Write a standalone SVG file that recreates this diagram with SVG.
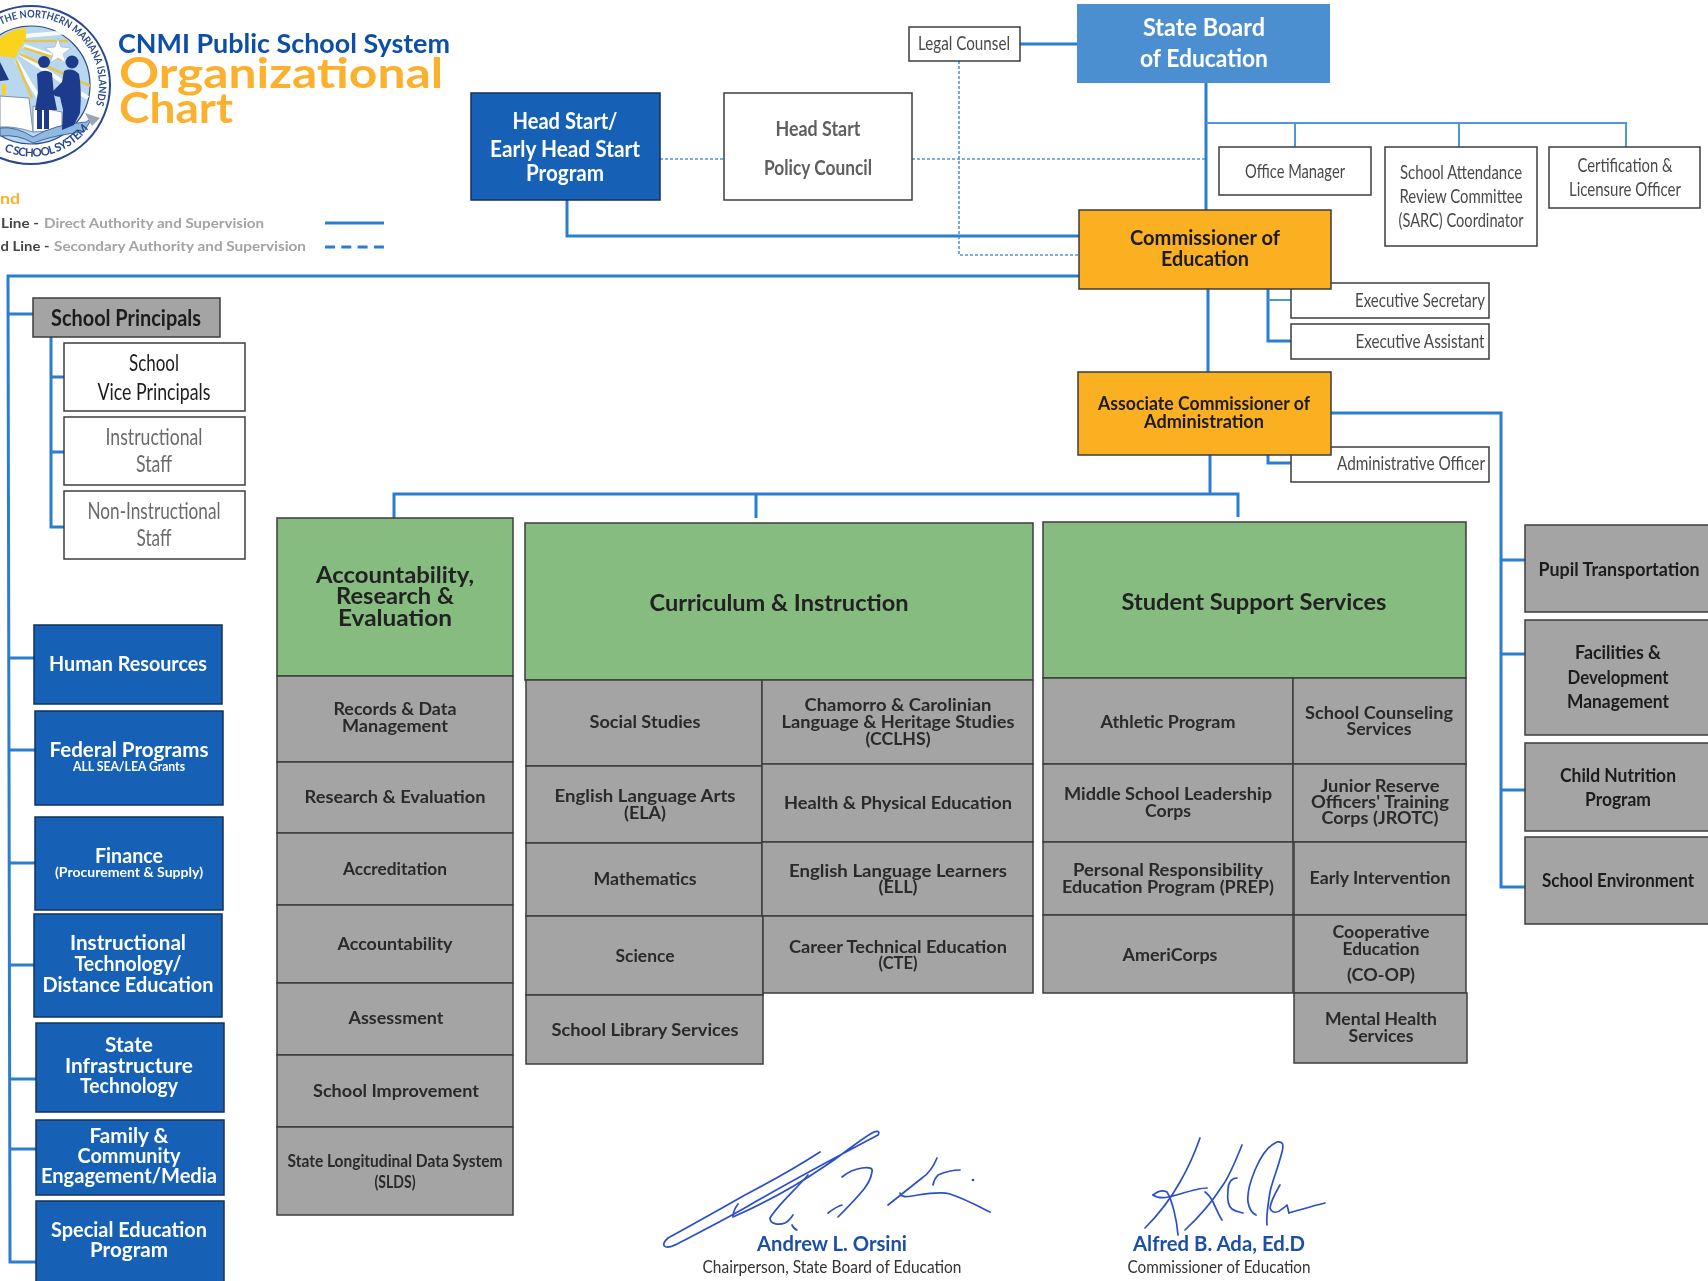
<svg xmlns="http://www.w3.org/2000/svg" width="1708" height="1281" viewBox="0 0 1708 1281">
<style>
text{font-family:"Lato","Liberation Sans",sans-serif;text-anchor:middle}
svg>g{filter:url(#scan)}
.b{font-weight:700}
.w{fill:#fff}
.k{fill:#1c1c1c}
.g{fill:#4a4a4a}
.s{fill:#2a2a2a;font-weight:700;font-size:16.5px}
.h{fill:#222;font-weight:700;font-size:22.5px}
.box{stroke:#3c3c3c;stroke-width:1.5}
.wb{fill:#fff}
.db{fill:#1561b5;stroke:#14305c;stroke-width:1.5}
.or{fill:#fbb024}
.gr{fill:#a4a4a4}
.gn{fill:#86bc80}
.solid{fill:none;stroke:#2c7dd0;stroke-width:3}
.thin{fill:none;stroke:#4f97da;stroke-width:2}
.dot{fill:none;stroke:#4f97da;stroke-width:1.6;stroke-dasharray:3 2}
.sig{fill:none;stroke:#2a50c8;stroke-width:1.7;stroke-linecap:round;stroke-linejoin:round}
</style>
<defs>
<filter id="scan" x="-5%" y="-5%" width="110%" height="110%"><feGaussianBlur stdDeviation="0.45"/></filter>
<path id="arcTop" d="M1 25 A67 67 0 0 1 96 104"/>
<path id="arcBot" d="M4 151 A71 71 0 0 0 96 116"/>
</defs>
<rect width="1708" height="1281" fill="#fff"/>

<g id="logo">
<circle cx="31" cy="85" r="79" fill="#fff" stroke="#2c4a8c" stroke-width="2"/>
<circle cx="31" cy="85" r="59" fill="#b9d8ef" stroke="#2c4a8c" stroke-width="1.2"/>
<path d="M24 36L70 32M24 46L70 62M20 54L88 98M16 60L40 100" stroke="#fff" stroke-width="4" fill="none" opacity=".9"/>
<path d="M0 38Q14 28 25 28Q29 38 20 48L15 58L0 56Z" fill="#fbd21c"/>
<path d="M24 41L68 41M24 48L62 60M20 54L90 86M16 60L32 98" stroke="#e6c64a" stroke-width="2.5" fill="none"/>
<path d="M58 38L61 47L71 48L63 54L66 63L58 58L50 63L53 54L45 48L55 47Z" fill="#fff" stroke="#9db9d8" stroke-width=".7"/>
<path d="M0 62L9 80L0 81Z" fill="#1c3a84"/>
<path d="M2 84H6V95H2Z" fill="#fbd21c"/>
<path d="M0 96L29 98L33 132Q15 126 0 127ZM33 106L62 112L62 130L33 132Z" fill="#fff" stroke="#7d8fb4" stroke-width="1"/>
<path d="M0 128Q16 126 33 137Q55 124 86 122L92 118L84 132Q58 134 33 143Q18 134 0 136Z" fill="#8fb9df" stroke="#2c4a8c" stroke-width=".8"/>
<path d="M85 113L100 118L92 126Z" fill="#9aa4b4"/>
<circle cx="44" cy="62" r="6" fill="#1c3a8c"/><circle cx="72" cy="62" r="6.5" fill="#1c3a8c"/>
<path d="M37 74Q44 68 52 73L54 95L57 110L35 110L38 92ZM37 108H42V129H37ZM44 108H49V129H44Z" fill="#1c3a8c"/>
<path d="M64 71Q72 67 79 74Q82 90 80 113L74 125L62 130L63 110L60 97L55 96L52 92L62 82Z" fill="#1c3a8c"/>
<text font-size="10.5" class="b" fill="#2c4a8c" textLength="158" lengthAdjust="spacingAndGlyphs" style="text-anchor:start"><textPath href="#arcTop">THE NORTHERN MARIANA ISLANDS</textPath></text>
<text font-size="11.5" font-weight="700" fill="#2c4a8c" textLength="94" lengthAdjust="spacing" style="text-anchor:start"><textPath href="#arcBot">C SCHOOL SYSTEM</textPath></text>
</g>

<g id="title">
<text x="284" y="53" font-size="26" class="b" fill="#0c4fa6" textLength="332" lengthAdjust="spacingAndGlyphs">CNMI Public School System</text>
<text x="281" y="88" font-size="42" class="b" fill="#fbb02e" textLength="324" lengthAdjust="spacingAndGlyphs">Organizational</text>
<text x="176" y="123" font-size="42" class="b" fill="#fbb02e" textLength="114" lengthAdjust="spacingAndGlyphs">Chart</text>
</g>

<g id="legend">
<text x="10" y="204" font-size="15" class="b" fill="#fbb02e" textLength="20" lengthAdjust="spacingAndGlyphs">nd</text>
<text x="20" y="228" font-size="14" class="b" fill="#444" textLength="38" lengthAdjust="spacingAndGlyphs">Line -</text>
<text x="154" y="228" font-size="14" class="b" fill="#a3a3a3" textLength="220" lengthAdjust="spacingAndGlyphs">Direct Authority and Supervision</text>
<text x="25" y="251" font-size="14" class="b" fill="#444" textLength="49" lengthAdjust="spacingAndGlyphs">d Line -</text>
<text x="180" y="251" font-size="14" class="b" fill="#a3a3a3" textLength="252" lengthAdjust="spacingAndGlyphs">Secondary Authority and Supervision</text>
<path d="M325 223H384" class="solid"/>
<path d="M325 247H384" class="solid" stroke-dasharray="10 6.3"/>
</g>

<g id="connectors">
<path class="solid" d="M1020 44H1077"/>
<path class="solid" d="M1206 82V210"/>
<path class="thin" d="M1206 123H1626V147M1295 123V147M1459 123V147"/>
<path class="dot" d="M660 159H724M912 159H1206"/>
<path class="dot" d="M959 61V255H1079"/>
<path class="solid" d="M567 200V236H1079"/>
<path class="solid" d="M1079 276H8L10 1262H36"/>
<path class="solid" stroke-width="2" d="M8 314H33M9 658H34M9 750H35M9 863H35M10 965H34M10 1079H36M10 1149H36"/>
<path class="solid" d="M51 337V527H64M51 377H64M51 452H64"/>
<path class="solid" d="M1208 289V372"/>
<path class="solid" d="M1268 289V341H1291"/>
<path class="thin" d="M1268 300H1291"/>
<path class="solid" d="M1268 455V463H1291"/>
<path class="solid" d="M1210 455V494"/>
<path class="solid" d="M394 518V494H1238V517M756 494V518"/>
<path class="solid" d="M1331 413H1501V887H1525M1501 560H1525M1501 654H1525M1501 790H1525"/>
</g>

<g id="state-board"><rect x="1077" y="4" width="253" height="79" fill="#4b8fd1"/><text x="1204" y="36" font-size="24" class="b w" textLength="122" lengthAdjust="spacingAndGlyphs">State Board</text><text x="1204" y="67" font-size="24" class="b w" textLength="128" lengthAdjust="spacingAndGlyphs">of Education</text></g>
<g id="legal-counsel"><rect x="909" y="27" width="111" height="34" class="box wb"/><text x="964" y="50" font-size="19" class="g" textLength="92" lengthAdjust="spacingAndGlyphs">Legal Counsel</text></g>
<g id="head-start"><rect x="471" y="93" width="189" height="107" class="db"/><text x="565" y="129" font-size="22" class="b w" textLength="105" lengthAdjust="spacingAndGlyphs">Head Start/</text><text x="565" y="157" font-size="22" class="b w" textLength="150" lengthAdjust="spacingAndGlyphs">Early Head Start</text><text x="565" y="181" font-size="22" class="b w" textLength="78" lengthAdjust="spacingAndGlyphs">Program</text></g>
<g id="policy-council"><rect x="724" y="93" width="188" height="107" class="box wb"/><text x="818" y="136" font-size="21" class="b" fill="#5e5e5e" textLength="85" lengthAdjust="spacingAndGlyphs">Head Start</text><text x="818" y="175" font-size="21" class="b" fill="#5e5e5e" textLength="108" lengthAdjust="spacingAndGlyphs">Policy Council</text></g>
<g id="office-manager"><rect x="1219" y="147" width="152" height="48" class="box wb"/><text x="1295" y="178" font-size="20" class="g" textLength="100" lengthAdjust="spacingAndGlyphs">Office Manager</text></g>
<g id="sarc"><rect x="1385" y="147" width="152" height="99" class="box wb"/><text x="1461" y="179" font-size="20" class="g" textLength="122" lengthAdjust="spacingAndGlyphs">School Attendance</text><text x="1461" y="203" font-size="20" class="g" textLength="123" lengthAdjust="spacingAndGlyphs">Review Committee</text><text x="1461" y="227" font-size="20" class="g" textLength="125" lengthAdjust="spacingAndGlyphs">(SARC) Coordinator</text></g>
<g id="certification"><rect x="1549" y="147" width="151" height="61" class="box wb"/><text x="1625" y="172" font-size="20" class="g" textLength="95" lengthAdjust="spacingAndGlyphs">Certification &amp;</text><text x="1625" y="196" font-size="20" class="g" textLength="112" lengthAdjust="spacingAndGlyphs">Licensure Officer</text></g>
<g id="exec-secretary"><rect x="1291" y="283" width="198" height="35" class="box wb"/><text x="1420" y="307" font-size="20" class="g" textLength="130" lengthAdjust="spacingAndGlyphs">Executive Secretary</text></g>
<g id="exec-assistant"><rect x="1291" y="324" width="198" height="35" class="box wb"/><text x="1420" y="348" font-size="20" class="g" textLength="129" lengthAdjust="spacingAndGlyphs">Executive Assistant</text></g>
<g id="commissioner"><rect x="1079" y="210" width="252" height="79" class="or box"/><text x="1205" y="245" font-size="21" class="b k" textLength="150" lengthAdjust="spacingAndGlyphs">Commissioner of</text><text x="1205" y="266" font-size="21" class="b k" textLength="88" lengthAdjust="spacingAndGlyphs">Education</text></g>
<g id="admin-officer"><rect x="1291" y="447" width="198" height="35" class="box wb"/><text x="1411" y="470" font-size="20" class="g" textLength="148" lengthAdjust="spacingAndGlyphs">Administrative Officer</text></g>
<g id="assoc-commissioner"><rect x="1078" y="372" width="253" height="83" class="or box"/><text x="1204" y="410" font-size="18.5" class="b k" textLength="212" lengthAdjust="spacingAndGlyphs">Associate Commissioner of</text><text x="1204" y="428" font-size="18.5" class="b k" textLength="120" lengthAdjust="spacingAndGlyphs">Administration</text></g>

<g id="school-principals"><rect x="33" y="298" width="187" height="39" class="gr box"/><text x="126" y="326" font-size="23" class="b k" textLength="150" lengthAdjust="spacingAndGlyphs">School Principals</text></g>
<g id="vice-principals"><rect x="64" y="343" width="181" height="68" class="box wb"/><text x="154" y="371" font-size="24" class="k" textLength="50" lengthAdjust="spacingAndGlyphs">School</text><text x="154" y="400" font-size="24" class="k" textLength="113" lengthAdjust="spacingAndGlyphs">Vice Principals</text></g>
<g id="instructional-staff"><rect x="64" y="417" width="181" height="68" class="box wb"/><text x="154" y="445" font-size="24" fill="#6a6a6a" textLength="97" lengthAdjust="spacingAndGlyphs">Instructional</text><text x="154" y="472" font-size="24" fill="#6a6a6a" textLength="36" lengthAdjust="spacingAndGlyphs">Staff</text></g>
<g id="non-instructional-staff"><rect x="64" y="491" width="181" height="68" class="box wb"/><text x="154" y="519" font-size="24" fill="#6a6a6a" textLength="133" lengthAdjust="spacingAndGlyphs">Non-Instructional</text><text x="154" y="546" font-size="24" fill="#6a6a6a" textLength="35" lengthAdjust="spacingAndGlyphs">Staff</text></g>

<g id="human-resources"><rect x="34" y="625" width="188" height="79" class="db"/><text x="128" y="671" font-size="21" class="b w" textLength="158" lengthAdjust="spacingAndGlyphs">Human Resources</text></g>
<g id="federal-programs"><rect x="35" y="711" width="188" height="94" class="db"/><text x="129" y="757" font-size="21" class="b w" textLength="159" lengthAdjust="spacingAndGlyphs">Federal Programs</text><text x="129" y="771" font-size="13" class="b w" textLength="112" lengthAdjust="spacingAndGlyphs">ALL SEA/LEA Grants</text></g>
<g id="finance"><rect x="35" y="817" width="188" height="93" class="db"/><text x="129" y="863" font-size="21" class="b w" textLength="68" lengthAdjust="spacingAndGlyphs">Finance</text><text x="129" y="877" font-size="14" class="b w" textLength="148" lengthAdjust="spacingAndGlyphs">(Procurement &amp; Supply)</text></g>
<g id="instructional-technology"><rect x="34" y="914" width="188" height="103" class="db"/><text x="128" y="950" font-size="21" class="b w" textLength="116" lengthAdjust="spacingAndGlyphs">Instructional</text><text x="128" y="971" font-size="21" class="b w" textLength="107" lengthAdjust="spacingAndGlyphs">Technology/</text><text x="128" y="992" font-size="21" class="b w" textLength="171" lengthAdjust="spacingAndGlyphs">Distance Education</text></g>
<g id="state-infrastructure"><rect x="36" y="1023" width="188" height="89" class="db"/><text x="129" y="1052" font-size="21" class="b w" textLength="48" lengthAdjust="spacingAndGlyphs">State</text><text x="129" y="1073" font-size="21" class="b w" textLength="128" lengthAdjust="spacingAndGlyphs">Infrastructure</text><text x="129" y="1093" font-size="21" class="b w" textLength="98" lengthAdjust="spacingAndGlyphs">Technology</text></g>
<g id="family-community"><rect x="36" y="1120" width="188" height="75" class="db"/><text x="129" y="1143" font-size="21" class="b w" textLength="79" lengthAdjust="spacingAndGlyphs">Family &amp;</text><text x="129" y="1163" font-size="21" class="b w" textLength="103" lengthAdjust="spacingAndGlyphs">Community</text><text x="129" y="1183" font-size="21" class="b w" textLength="176" lengthAdjust="spacingAndGlyphs">Engagement/Media</text></g>
<g id="special-education"><rect x="36" y="1201" width="188" height="82" class="db"/><text x="129" y="1237" font-size="21" class="b w" textLength="156" lengthAdjust="spacingAndGlyphs">Special Education</text><text x="129" y="1257" font-size="21" class="b w" textLength="78" lengthAdjust="spacingAndGlyphs">Program</text></g>

<g id="accountability-header"><rect x="277" y="518" width="236" height="158" class="gn box"/><text x="395" y="583" class="h" textLength="158" lengthAdjust="spacingAndGlyphs">Accountability,</text><text x="395" y="604" class="h" textLength="118" lengthAdjust="spacingAndGlyphs">Research &amp;</text><text x="395" y="626" class="h" textLength="114" lengthAdjust="spacingAndGlyphs">Evaluation</text></g>
<g id="records"><rect x="277" y="676" width="236" height="86" class="gr box"/><text x="395" y="715" class="s" textLength="123" lengthAdjust="spacingAndGlyphs">Records &amp; Data</text><text x="395" y="732" class="s" textLength="106" lengthAdjust="spacingAndGlyphs">Management</text></g>
<g id="research"><rect x="277" y="762" width="236" height="71" class="gr box"/><text x="395" y="803" class="s" textLength="181" lengthAdjust="spacingAndGlyphs">Research &amp; Evaluation</text></g>
<g id="accreditation"><rect x="277" y="833" width="236" height="72" class="gr box"/><text x="395" y="875" class="s" textLength="104" lengthAdjust="spacingAndGlyphs">Accreditation</text></g>
<g id="accountability"><rect x="277" y="905" width="236" height="78" class="gr box"/><text x="395" y="950" class="s" textLength="115" lengthAdjust="spacingAndGlyphs">Accountability</text></g>
<g id="assessment"><rect x="277" y="983" width="236" height="72" class="gr box"/><text x="396" y="1024" class="s" textLength="95" lengthAdjust="spacingAndGlyphs">Assessment</text></g>
<g id="school-improvement"><rect x="277" y="1055" width="236" height="72" class="gr box"/><text x="396" y="1097" class="s" textLength="166" lengthAdjust="spacingAndGlyphs">School Improvement</text></g>
<g id="slds"><rect x="277" y="1127" width="236" height="88" class="gr box"/><text x="395" y="1167" class="s" textLength="215" lengthAdjust="spacingAndGlyphs">State Longitudinal Data System</text><text x="395" y="1188" class="s" textLength="41" lengthAdjust="spacingAndGlyphs">(SLDS)</text></g>

<g id="curriculum-header"><rect x="525" y="523" width="508" height="157" class="gn box"/><text x="779" y="611" class="h" textLength="259" lengthAdjust="spacingAndGlyphs">Curriculum &amp; Instruction</text></g>
<g id="social-studies"><rect x="526" y="680" width="236" height="86" class="gr box"/><text x="645" y="728" class="s" textLength="111" lengthAdjust="spacingAndGlyphs">Social Studies</text></g>
<g id="ela"><rect x="526" y="766" width="236" height="77" class="gr box"/><text x="645" y="802" class="s" textLength="181" lengthAdjust="spacingAndGlyphs">English Language Arts</text><text x="645" y="819" class="s" textLength="42" lengthAdjust="spacingAndGlyphs">(ELA)</text></g>
<g id="mathematics"><rect x="526" y="843" width="236" height="73" class="gr box"/><text x="645" y="885" class="s" textLength="103" lengthAdjust="spacingAndGlyphs">Mathematics</text></g>
<g id="science"><rect x="526" y="916" width="237" height="79" class="gr box"/><text x="645" y="962" class="s" textLength="59" lengthAdjust="spacingAndGlyphs">Science</text></g>
<g id="library"><rect x="526" y="995" width="237" height="69" class="gr box"/><text x="645" y="1036" class="s" textLength="187" lengthAdjust="spacingAndGlyphs">School Library Services</text></g>
<g id="cclhs"><rect x="762" y="680" width="271" height="84" class="gr box"/><text x="898" y="711" class="s" textLength="187" lengthAdjust="spacingAndGlyphs">Chamorro &amp; Carolinian</text><text x="898" y="728" class="s" textLength="233" lengthAdjust="spacingAndGlyphs">Language &amp; Heritage Studies</text><text x="898" y="745" class="s" textLength="65" lengthAdjust="spacingAndGlyphs">(CCLHS)</text></g>
<g id="health"><rect x="762" y="764" width="271" height="78" class="gr box"/><text x="898" y="809" class="s" textLength="228" lengthAdjust="spacingAndGlyphs">Health &amp; Physical Education</text></g>
<g id="ell"><rect x="762" y="842" width="271" height="74" class="gr box"/><text x="898" y="877" class="s" textLength="218" lengthAdjust="spacingAndGlyphs">English Language Learners</text><text x="898" y="893" class="s" textLength="39" lengthAdjust="spacingAndGlyphs">(ELL)</text></g>
<g id="cte"><rect x="763" y="916" width="270" height="77" class="gr box"/><text x="898" y="953" class="s" textLength="218" lengthAdjust="spacingAndGlyphs">Career Technical Education</text><text x="898" y="969" class="s" textLength="39" lengthAdjust="spacingAndGlyphs">(CTE)</text></g>

<g id="student-support-header"><rect x="1043" y="522" width="423" height="156" class="gn box"/><text x="1254" y="610" class="h" textLength="265" lengthAdjust="spacingAndGlyphs">Student Support Services</text></g>
<g id="athletic"><rect x="1043" y="678" width="250" height="86" class="gr box"/><text x="1168" y="728" class="s" textLength="135" lengthAdjust="spacingAndGlyphs">Athletic Program</text></g>
<g id="middle-school"><rect x="1043" y="764" width="250" height="78" class="gr box"/><text x="1168" y="800" class="s" textLength="208" lengthAdjust="spacingAndGlyphs">Middle School Leadership</text><text x="1168" y="817" class="s" textLength="46" lengthAdjust="spacingAndGlyphs">Corps</text></g>
<g id="prep"><rect x="1043" y="842" width="250" height="73" class="gr box"/><text x="1168" y="876" class="s" textLength="190" lengthAdjust="spacingAndGlyphs">Personal Responsibility</text><text x="1168" y="893" class="s" textLength="212" lengthAdjust="spacingAndGlyphs">Education Program (PREP)</text></g>
<g id="americorps"><rect x="1043" y="915" width="250" height="78" class="gr box"/><text x="1170" y="961" class="s" textLength="95" lengthAdjust="spacingAndGlyphs">AmeriCorps</text></g>
<g id="counseling"><rect x="1293" y="678" width="173" height="86" class="gr box"/><text x="1379" y="719" class="s" textLength="148" lengthAdjust="spacingAndGlyphs">School Counseling</text><text x="1379" y="735" class="s" textLength="65" lengthAdjust="spacingAndGlyphs">Services</text></g>
<g id="jrotc"><rect x="1293" y="764" width="173" height="78" class="gr box"/><text x="1380" y="792" class="s" textLength="119" lengthAdjust="spacingAndGlyphs">Junior Reserve</text><text x="1380" y="808" class="s" textLength="138" lengthAdjust="spacingAndGlyphs">Officers' Training</text><text x="1380" y="824" class="s" textLength="117" lengthAdjust="spacingAndGlyphs">Corps (JROTC)</text></g>
<g id="early-intervention"><rect x="1294" y="842" width="172" height="73" class="gr box"/><text x="1380" y="884" class="s" textLength="141" lengthAdjust="spacingAndGlyphs">Early Intervention</text></g>
<g id="co-op"><rect x="1294" y="915" width="172" height="78" class="gr box"/><text x="1381" y="938" class="s" textLength="97" lengthAdjust="spacingAndGlyphs">Cooperative</text><text x="1381" y="955" class="s" textLength="77" lengthAdjust="spacingAndGlyphs">Education</text><text x="1381" y="981" class="s" textLength="68" lengthAdjust="spacingAndGlyphs">(CO-OP)</text></g>
<g id="mental-health"><rect x="1294" y="993" width="173" height="70" class="gr box"/><text x="1381" y="1025" class="s" textLength="112" lengthAdjust="spacingAndGlyphs">Mental Health</text><text x="1381" y="1042" class="s" textLength="65" lengthAdjust="spacingAndGlyphs">Services</text></g>

<g id="pupil-transportation"><rect x="1525" y="525" width="190" height="87" class="gr box"/><text x="1619" y="576" font-size="19" class="b k" textLength="161" lengthAdjust="spacingAndGlyphs">Pupil Transportation</text></g>
<g id="facilities"><rect x="1525" y="620" width="190" height="115" class="gr box"/><text x="1618" y="659" font-size="19" class="b k" textLength="86" lengthAdjust="spacingAndGlyphs">Facilities &amp;</text><text x="1618" y="684" font-size="19" class="b k" textLength="101" lengthAdjust="spacingAndGlyphs">Development</text><text x="1618" y="708" font-size="19" class="b k" textLength="102" lengthAdjust="spacingAndGlyphs">Management</text></g>
<g id="child-nutrition"><rect x="1525" y="743" width="190" height="88" class="gr box"/><text x="1618" y="782" font-size="19" class="b k" textLength="116" lengthAdjust="spacingAndGlyphs">Child Nutrition</text><text x="1618" y="806" font-size="19" class="b k" textLength="66" lengthAdjust="spacingAndGlyphs">Program</text></g>
<g id="school-environment"><rect x="1525" y="837" width="190" height="87" class="gr box"/><text x="1618" y="887" font-size="19" class="b k" textLength="152" lengthAdjust="spacingAndGlyphs">School Environment</text></g>

<g id="signature-orsini">
<path class="sig" stroke-width="2.2" d="M820 1152C795 1168 770 1182 745 1195C715 1212 690 1226 668 1238C660 1245 664 1250 675 1245"/>
<path class="sig" stroke-width="1.1" d="M675 1245C700 1232 730 1217 755 1202C790 1182 840 1155 878 1135C881 1130 875 1131 872 1133C855 1143 840 1157 822 1168C790 1190 760 1205 733 1217C733 1212 735 1208 738 1204"/>
<path class="sig" d="M808 1175C795 1190 778 1205 770 1218C770 1225 780 1225 785 1223C789 1221 791 1218 793 1215M792 1225Q794 1229 797 1230"/>
<path class="sig" d="M842 1177C848 1172 855 1169 862 1168C870 1167 873 1168 872 1172C871 1178 868 1184 864 1189C856 1199 847 1208 838 1217M828 1213C832 1210 838 1206 842 1205"/>
<path class="sig" d="M937 1158C933 1168 928 1174 922 1178C912 1186 898 1197 888 1205M900 1193C901 1197 905 1197 912 1196C925 1194 940 1191 950 1194C965 1199 978 1206 990 1212"/>
<path class="sig" d="M933 1185C934 1180 936 1177 938 1175C945 1172 952 1170 960 1170"/>
<circle cx="973" cy="1180" r="1.3" fill="#2a50c8"/>
<text x="832" y="1251" font-size="21" class="b" fill="#1a4fa5" textLength="150" lengthAdjust="spacingAndGlyphs">Andrew L. Orsini</text>
<text x="832" y="1273" font-size="18" fill="#333" textLength="259" lengthAdjust="spacingAndGlyphs">Chairperson, State Board of Education</text>
</g>
<g id="signature-ada">
<path class="sig" d="M1200 1138C1194 1155 1187 1170 1180 1182C1170 1200 1155 1218 1145 1228"/>
<path class="sig" d="M1153 1195C1158 1191 1163 1190 1167 1192C1172 1200 1177 1220 1178 1235"/>
<path class="sig" d="M1153 1195C1160 1200 1170 1197 1180 1194C1190 1191 1200 1188 1207 1188"/>
<path class="sig" d="M1242 1145C1236 1160 1230 1175 1223 1185C1212 1202 1198 1218 1185 1230"/>
<path class="sig" d="M1205 1192C1208 1194 1211 1198 1213 1202C1216 1208 1219 1216 1222 1220"/>
<path class="sig" d="M1237 1178C1232 1178 1228 1182 1228 1190C1227 1200 1228 1206 1232 1209C1236 1212 1240 1212 1243 1213"/>
<path class="sig" d="M1277 1142C1268 1146 1260 1158 1255 1170C1250 1182 1247 1194 1248 1202C1249 1208 1252 1213 1256 1215M1277 1142C1283 1141 1284 1145 1282 1152C1278 1168 1272 1182 1270 1192C1268 1204 1266 1216 1267 1225"/>
<path class="sig" d="M1280 1185C1276 1192 1271 1200 1270 1208C1272 1214 1278 1213 1282 1209C1285 1207 1287 1205 1287 1205L1289 1213"/>
<path class="sig" stroke-width="2.2" d="M1289 1213C1300 1210 1312 1206 1325 1203"/>
<text x="1219" y="1251" font-size="21" class="b" fill="#1a4fa5" textLength="172" lengthAdjust="spacingAndGlyphs">Alfred B. Ada, Ed.D</text>
<text x="1219" y="1273" font-size="18" fill="#333" textLength="183" lengthAdjust="spacingAndGlyphs">Commissioner of Education</text>
</g>
</svg>
